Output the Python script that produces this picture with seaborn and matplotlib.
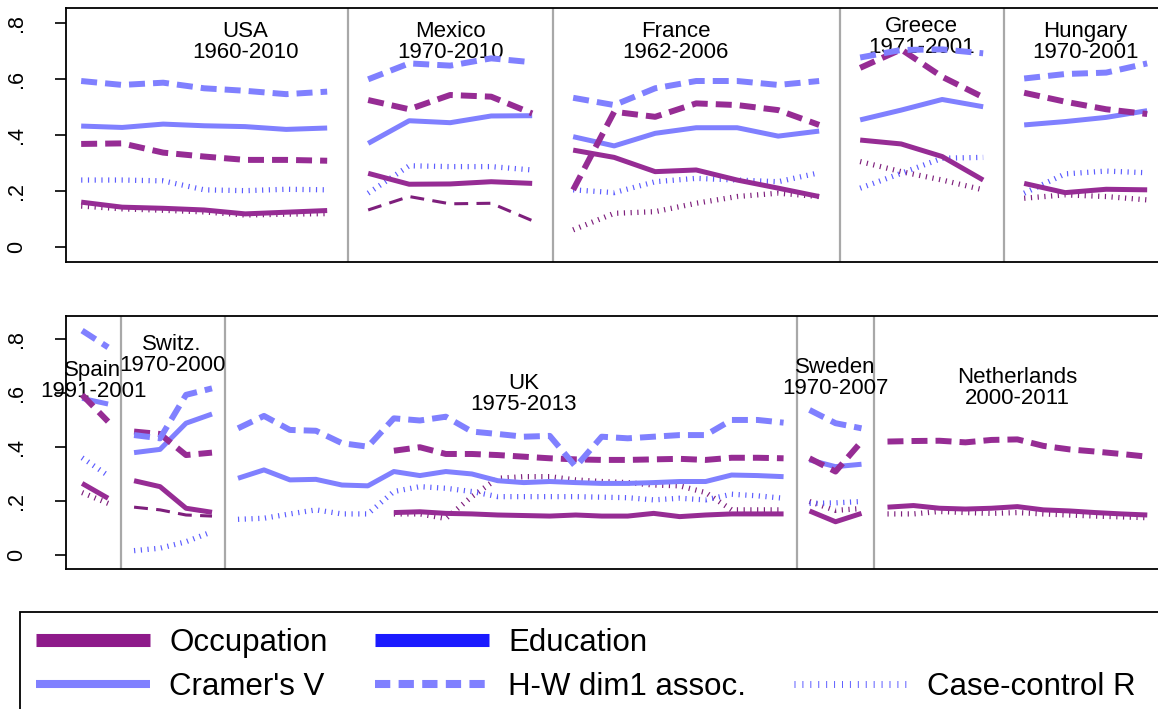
import numpy as np
import pandas as pd
import matplotlib
matplotlib.use("Agg")
import matplotlib.pyplot as plt
from matplotlib.lines import Line2D
from matplotlib.patches import Rectangle
import seaborn as sns

sns.set_theme(style="white")
plt.rcParams["font.family"] = ["Liberation Sans", "DejaVu Sans"]
plt.rcParams["lines.scale_dashes"] = False
plt.rcParams["text.color"] = "black"

nan = np.nan

# ---- panel 1 -------------------------------------------------------------
top_countries = ["USA", "Mexico", "France", "Greece", "Hungary"]
top_periods = ["1960-2010", "1970-2010", "1962-2006", "1971-2001", "1970-2001"]

usa_occ_v = [0.160, 0.142, 0.138, 0.132, 0.118, 0.124, 0.130]
usa_occ_hw = [0.368, 0.370, 0.337, 0.323, 0.311, 0.311, 0.308]
usa_occ_cc = [0.146, 0.136, 0.131, 0.125, 0.114, 0.117, 0.119]
usa_edu_v = [0.432, 0.427, 0.439, 0.433, 0.430, 0.420, 0.425]
usa_edu_hw = [0.593, 0.579, 0.587, 0.567, 0.558, 0.546, 0.555]
usa_edu_cc = [0.239, 0.239, 0.236, 0.204, 0.201, 0.206, 0.204]

mex_occ_v = [0.263, 0.224, 0.225, 0.233, 0.227]
mex_occ_hw = [0.525, 0.492, 0.543, 0.537, 0.477]
mex_occ_alt = [0.132, 0.180, 0.154, 0.156, 0.094]
mex_edu_v = [0.370, 0.451, 0.444, 0.468, 0.469]
mex_edu_hw = [0.599, 0.656, 0.648, 0.674, 0.660]
mex_edu_cc = [0.192, 0.290, 0.287, 0.287, 0.275]

fra_occ_v = [0.346, 0.320, 0.269, 0.275, 0.239, 0.210, 0.180]
fra_occ_hw = [0.204, 0.483, 0.465, 0.513, 0.507, 0.489, 0.436]
fra_occ_cc = [0.061, 0.120, 0.126, 0.156, 0.180, 0.192, 0.180]
fra_edu_v = [0.394, 0.361, 0.406, 0.426, 0.426, 0.396, 0.414]
fra_edu_hw = [0.533, 0.507, 0.567, 0.593, 0.593, 0.579, 0.593]
fra_edu_cc = [0.204, 0.194, 0.233, 0.245, 0.239, 0.233, 0.265]

gre_occ_v = [0.382, 0.368, 0.323, 0.239]
gre_occ_hw = [0.640, 0.706, 0.608, 0.535]
gre_occ_cc = [0.305, 0.269, 0.239, 0.204]
gre_edu_v = [0.454, 0.489, 0.527, 0.501]
gre_edu_hw = [0.677, 0.704, 0.706, 0.692]
gre_edu_cc = [0.210, 0.263, 0.317, 0.320]

hun_occ_v = [0.227, 0.194, 0.206, 0.204]
hun_occ_hw = [0.551, 0.519, 0.492, 0.475]
hun_occ_cc = [0.174, 0.186, 0.180, 0.168]
hun_edu_v = [0.436, 0.448, 0.463, 0.487]
hun_edu_hw = [0.602, 0.618, 0.623, 0.656]
hun_edu_cc = [0.192, 0.261, 0.271, 0.265]

# ---- panel 2 -------------------------------------------------------------
bottom_countries = ["Spain", "Switz.", "UK", "Sweden", "Netherlands"]
bottom_periods = ["1991-2001", "1970-2000", "1975-2013", "1970-2007", "2000-2011"]

esp_occ_v = [0.265, 0.210]
esp_occ_hw = [0.593, 0.494]
esp_occ_cc = [0.231, 0.191]
esp_edu_v = [0.580, 0.559]
esp_edu_hw = [0.831, 0.769]
esp_edu_cc = [0.360, 0.294]

che_occ_v = [0.275, 0.253, 0.173, 0.158]
che_occ_hw = [0.457, 0.448, 0.370, 0.379]
che_occ_alt = [0.177, 0.167, 0.148, 0.144]
che_edu_v = [0.379, 0.391, 0.488, 0.522]
che_edu_hw = [0.444, 0.432, 0.593, 0.617]
che_edu_cc = [0.016, 0.025, 0.049, 0.086]

uk_occ_v = [nan] * 6 + [0.157, 0.160, 0.154, 0.152, 0.148, 0.146, 0.144, 0.148,
                        0.144, 0.144, 0.154, 0.142, 0.148, 0.152, 0.152, 0.152]
uk_occ_hw = [nan] * 6 + [0.386, 0.399, 0.374, 0.374, 0.370, 0.364, 0.358, 0.354,
                         0.352, 0.352, 0.354, 0.356, 0.352, 0.360, 0.360, 0.358]
uk_occ_cc = [nan] * 6 + [0.152, 0.152, 0.135, 0.216, 0.284, 0.290, 0.290, 0.278,
                         0.272, 0.268, 0.259, 0.256, 0.231, 0.167, 0.167, 0.167]
uk_edu_v = [0.284, 0.315, 0.278, 0.280, 0.259, 0.256, 0.309, 0.294, 0.309, 0.300, 0.275,
            0.268, 0.272, 0.268, 0.265, 0.265, 0.268, 0.272, 0.272, 0.296, 0.294, 0.290]
uk_edu_hw = [0.469, 0.515, 0.463, 0.460, 0.414, 0.401, 0.506, 0.498, 0.512, 0.457, 0.448,
             0.438, 0.441, 0.327, 0.438, 0.432, 0.438, 0.444, 0.444, 0.500, 0.500, 0.490]
uk_edu_cc = [0.132, 0.136, 0.152, 0.167, 0.152, 0.152, 0.235, 0.253, 0.247, 0.235, 0.216,
             0.216, 0.216, 0.216, 0.214, 0.212, 0.204, 0.210, 0.204, 0.225, 0.219, 0.210]

swe_occ_v = [0.163, 0.123, 0.154]
swe_occ_hw = [0.358, 0.309, 0.420]
swe_occ_cc = [0.198, 0.165, 0.172]
swe_edu_v = [0.352, 0.327, 0.336]
swe_edu_hw = [0.537, 0.488, 0.469]
swe_edu_cc = [0.191, 0.193, 0.198]

nld_occ_v = [0.177, 0.183, 0.173, 0.170, 0.173, 0.179, 0.167, 0.163, 0.157, 0.152, 0.148]
nld_occ_hw = [0.420, 0.422, 0.423, 0.417, 0.426, 0.428, 0.404, 0.391, 0.383, 0.374, 0.364]
nld_occ_cc = [0.152, 0.152, 0.161, 0.157, 0.154, 0.157, 0.152, 0.148, 0.144, 0.141, 0.138]

top_series = [
    {"occ_v": usa_occ_v, "occ_hw": usa_occ_hw, "occ_cc": usa_occ_cc,
     "edu_v": usa_edu_v, "edu_hw": usa_edu_hw, "edu_cc": usa_edu_cc},
    {"occ_v": mex_occ_v, "occ_hw": mex_occ_hw, "occ_alt": mex_occ_alt,
     "edu_v": mex_edu_v, "edu_hw": mex_edu_hw, "edu_cc": mex_edu_cc},
    {"occ_v": fra_occ_v, "occ_hw": fra_occ_hw, "occ_cc": fra_occ_cc,
     "edu_v": fra_edu_v, "edu_hw": fra_edu_hw, "edu_cc": fra_edu_cc},
    {"occ_v": gre_occ_v, "occ_hw": gre_occ_hw, "occ_cc": gre_occ_cc,
     "edu_v": gre_edu_v, "edu_hw": gre_edu_hw, "edu_cc": gre_edu_cc},
    {"occ_v": hun_occ_v, "occ_hw": hun_occ_hw, "occ_cc": hun_occ_cc,
     "edu_v": hun_edu_v, "edu_hw": hun_edu_hw, "edu_cc": hun_edu_cc},
]
bottom_series = [
    {"occ_v": esp_occ_v, "occ_hw": esp_occ_hw, "occ_cc": esp_occ_cc,
     "edu_v": esp_edu_v, "edu_hw": esp_edu_hw, "edu_cc": esp_edu_cc},
    {"occ_v": che_occ_v, "occ_hw": che_occ_hw, "occ_alt": che_occ_alt,
     "edu_v": che_edu_v, "edu_hw": che_edu_hw, "edu_cc": che_edu_cc},
    {"occ_v": uk_occ_v, "occ_hw": uk_occ_hw, "occ_cc": uk_occ_cc,
     "edu_v": uk_edu_v, "edu_hw": uk_edu_hw, "edu_cc": uk_edu_cc},
    {"occ_v": swe_occ_v, "occ_hw": swe_occ_hw, "occ_cc": swe_occ_cc,
     "edu_v": swe_edu_v, "edu_hw": swe_edu_hw, "edu_cc": swe_edu_cc},
    {"occ_v": nld_occ_v, "occ_hw": nld_occ_hw, "occ_cc": nld_occ_cc},
]

# ---- styles -------------------------------------------------------------
OCC = "#962C94"
OCC_DOT = "#7E1F7C"
EDU = "#8080FF"
EDU_DOT = "#5C5CFF"
OCC_KEY = "#8E1A8A"
EDU_KEY = "#1A1AFF"
SEP = "#A8A8A8"

styles = {
    "edu_hw": dict(color=EDU, linewidth=4.3, linestyle=(0, (11.5, 5.8))),
    "occ_hw": dict(color=OCC, linewidth=4.3, linestyle=(0, (11.5, 5.8))),
    "edu_v": dict(color=EDU, linewidth=3.6, linestyle="-"),
    "occ_v": dict(color=OCC, linewidth=3.6, linestyle="-"),
    "edu_cc": dict(color=EDU_DOT, linewidth=3.8, linestyle=(0, (0.85, 4.0))),
    "occ_cc": dict(color=OCC_DOT, linewidth=3.8, linestyle=(0, (0.85, 4.0))),
    "occ_alt": dict(color=OCC_DOT, linewidth=2.2, linestyle=(0, (10, 6))),
}
draw_order = ["occ_alt", "occ_cc", "edu_cc", "occ_v", "edu_v", "occ_hw", "edu_hw"]


def long_frame(countries, series):
    rows = []
    start = 0
    bounds = []
    for name, block in zip(countries, series):
        n = max(len(v) for v in block.values())
        for key, vals in block.items():
            for i, v in enumerate(vals):
                if not np.isnan(v):
                    rows.append({"country": name, "series": key,
                                 "x": start + i, "value": v})
        bounds.append(start + n)
        start += n
    return pd.DataFrame(rows), bounds


def draw_panel(ax, countries, periods, series, xlim, ylim, label_pos):
    df, bounds = long_frame(countries, series)
    for b in bounds[:-1]:
        ax.axvline(b - 0.5, color=SEP, linewidth=1.6, zorder=1)
    for (lx, ly), name, per in zip(label_pos, countries, periods):
        ax.text(lx, ly, f"{name}\n{per}", ha="center", va="center",
                fontsize=16, linespacing=1.0, color="black", zorder=1.5)
    for key in draw_order:
        sub = df[df["series"] == key]
        if sub.empty:
            continue
        st = styles[key]
        sns.lineplot(data=sub, x="x", y="value", units="country",
                     estimator=None, sort=False, ax=ax, legend=False,
                     color=st["color"], linewidth=st["linewidth"],
                     linestyle=st["linestyle"], dash_capstyle="butt",
                     solid_capstyle="butt", zorder=2)
    ax.set_xlim(*xlim)
    ax.set_ylim(*ylim)
    ax.set_xlabel("")
    ax.set_ylabel("")
    ax.set_xticks([])
    ax.set_yticks([0, 0.2, 0.4, 0.6, 0.8])
    ax.set_yticklabels(["0", ".2", ".4", ".6", ".8"], rotation=90,
                       va="center", fontsize=15.5)
    ax.tick_params(axis="y", left=True, length=8, width=1.2, pad=20,
                   color="black", labelcolor="black")
    for s in ax.spines.values():
        s.set_color("black")
        s.set_linewidth(1.3)
    ax.grid(False)


W, H = 1158, 709
fig = plt.figure(figsize=(W / 100, H / 100), dpi=100)
fig.patch.set_facecolor("white")

ax_w = 1097 / W
ax1 = fig.add_axes([66 / W, 1 - 262 / H, ax_w, 254 / H])
ax2 = fig.add_axes([66 / W, 1 - 569 / H, ax_w, 253 / H])

draw_panel(ax1, top_countries, top_periods, top_series,
           (-0.37, -0.37 + 1097 / 41.0), (-0.054, 0.854),
           [(4.0, 0.734), (9.0, 0.734), (14.5, 0.734), (20.5, 0.752), (24.5, 0.734)])
draw_panel(ax2, bottom_countries, bottom_periods, bottom_series,
           (-0.62, -0.62 + 1097 / 25.98), (-0.052, 0.885),
           [(0.42, 0.643), (3.46, 0.741), (17.0, 0.596), (29.0, 0.654), (36.0, 0.620)])

# legend box runs off the right and bottom edges of the figure
fig.add_artist(Rectangle((20 / W, -0.05), 1.1, 1 - 612 / H + 0.05,
                         transform=fig.transFigure, fill=False,
                         edgecolor="black", linewidth=1.3))

handles = [
    Line2D([], [], color=OCC_KEY, linewidth=9.4, solid_capstyle="butt"),
    Line2D([], [], color=EDU, linewidth=5.8, solid_capstyle="butt"),
    Line2D([], [], color=EDU_KEY, linewidth=9.4, solid_capstyle="butt"),
    Line2D([], [], color=EDU, linewidth=5.8, linestyle=(0, (11, 6)),
           dash_capstyle="butt"),
    Line2D([], [], alpha=0),
    Line2D([], [], color=EDU_DOT, linewidth=5.0, linestyle=(0, (0.7, 5.0)),
           dash_capstyle="butt"),
]
labels = ["Occupation", "Cramer's V", "Education", "H-W dim1 assoc.", "",
          "Case-control R"]
leg = fig.legend(handles, labels, ncol=3, loc="upper left",
                 bbox_to_anchor=(20 / W, 1 - 612 / H), bbox_transform=fig.transFigure,
                 fontsize=22.5, frameon=False, borderaxespad=0,
                 handlelength=3.65, handletextpad=0.62, columnspacing=1.52,
                 borderpad=0.5, labelspacing=0.45, labelcolor="black")

fig.savefig("out.png", dpi=100, facecolor="white")
